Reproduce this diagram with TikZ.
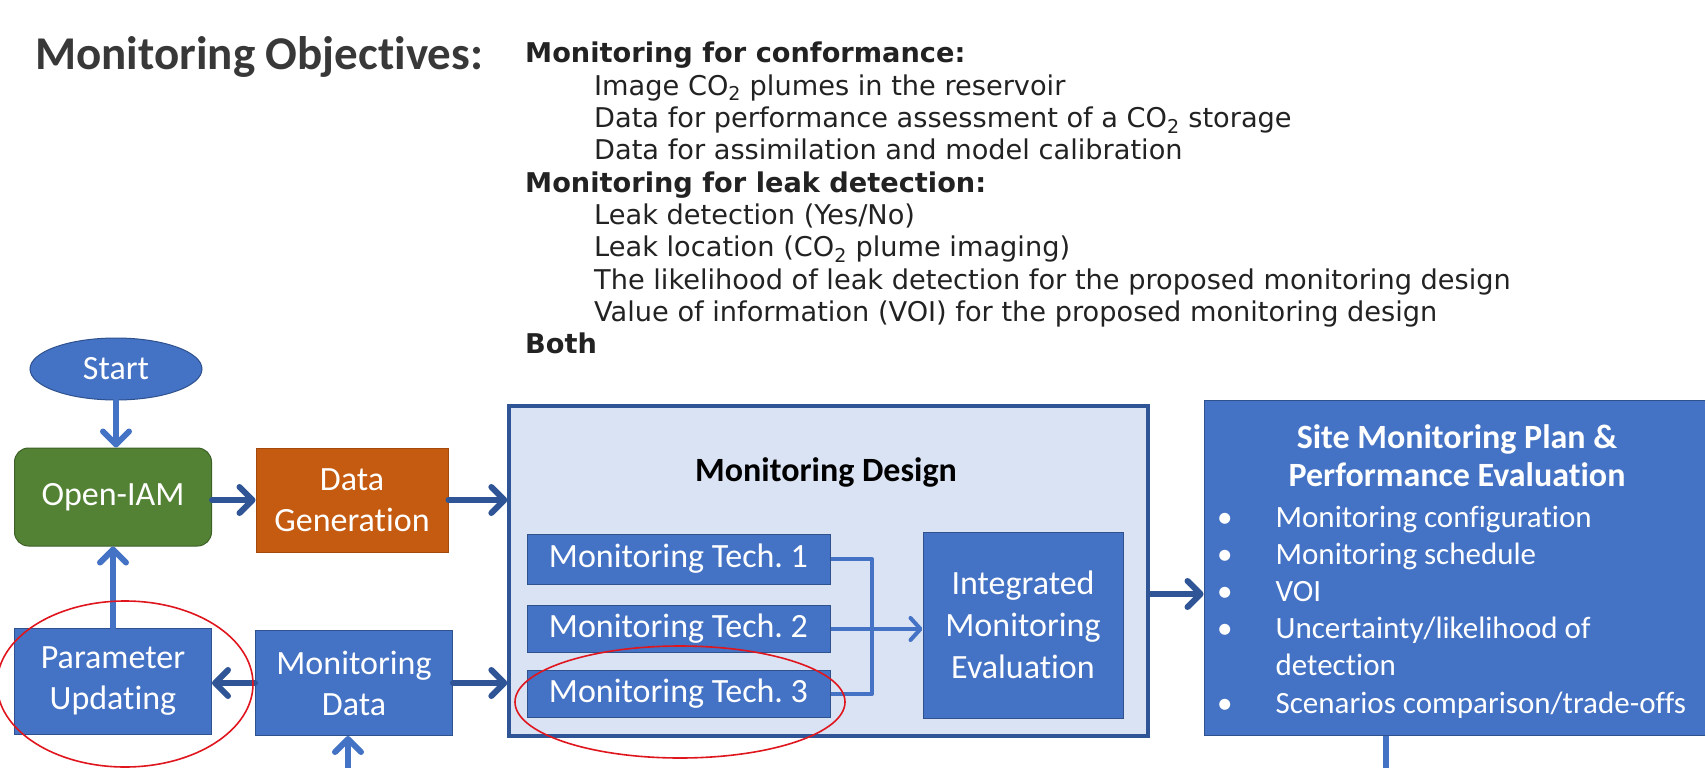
\documentclass[tikz,border=0pt]{standalone}
\usepackage{fontspec}
\setmainfont{Carlito}[Ligatures=NoCommon]
\newfontfamily\objfont{DejaVu Sans}
\usetikzlibrary{arrows.meta,shapes.geometric}

\definecolor{offblue}{HTML}{4472C4}
\definecolor{darkblue}{HTML}{2F5597}
\definecolor{edgeblue}{HTML}{2F528F}
\definecolor{paleblue}{HTML}{DAE3F3}
\definecolor{iamgreen}{HTML}{548235}
\definecolor{iamedge}{HTML}{3D6127}
\definecolor{genorange}{HTML}{C55A11}
\definecolor{genedge}{HTML}{A4490D}
\definecolor{ringred}{HTML}{E0161E}
\definecolor{textgray}{HTML}{222222}

\newcommand{\boxfont}{\fontsize{34}{41}\selectfont}
\newcommand{\listfont}{\fontsize{31}{37.2}\selectfont}
\newcommand{\objsize}{\objfont\fontsize{27.2}{31}\selectfont}
\newcommand{\COtwo}{CO\textsubscript{2}}

\begin{document}
\frenchspacing
\begin{tikzpicture}[x=1pt,y=-1pt,
    box/.style={draw=edgeblue, fill=offblue, text=white, line width=1pt,
      font=\boxfont, align=center, inner sep=0pt},
    flow/.style={-{Straight Barb[length=13pt,width=26pt,round]}, line width=6pt,
      darkblue, line cap=round, line join=round},
    bus/.style={line width=4pt, offblue, line join=round},
    ring/.style={draw=ringred, line width=1.6pt, ellipse},
    objhead/.style={anchor=base west, text=textgray, font=\objsize\bfseries, inner sep=0pt},
    objitem/.style={anchor=base west, text=textgray, font=\objsize, inner sep=0pt}]
\path[use as bounding box, fill=white] (0,0) rectangle (1705,768);

% objectives
\node[anchor=base west, inner sep=0pt, text=black!78, font=\fontsize{47}{56}\selectfont\bfseries]
  (title) at (35,70) {Monitoring Objectives:};
\node[objhead] (conf) at (525,63) {Monitoring for conformance:};
\node[objitem] (c1) at (594,95.3) {Image \COtwo{} plumes in the reservoir};
\node[objitem] (c2) at (594,127.6) {Data for performance assessment of a \COtwo{} storage};
\node[objitem] (c3) at (594,159.9) {Data for assimilation and model calibration};
\node[objhead] (leak) at (525,192.2) {Monitoring for leak detection:};
\node[objitem] (l1) at (594,224.5) {Leak detection (Yes/No)};
\node[objitem] (l2) at (594,256.8) {Leak location (\COtwo{} plume imaging)};
\node[objitem] (l3) at (594,289.1) {The likelihood of leak detection for the proposed monitoring design};
\node[objitem] (l4) at (594,321.4) {Value of information (VOI) for the proposed monitoring design};
\node[objhead] (both) at (525,353.7) {Both};

% workflow
\node[box, ellipse, minimum width=172pt, minimum height=62pt] (start) at (116,369) {Start};
\node[box, draw=iamedge, fill=iamgreen, rounded corners=14pt,
  minimum width=197pt, minimum height=98pt] (openiam) at (113,497) {Open-IAM};
\node[box, draw=genedge, fill=genorange, minimum width=192pt, minimum height=104pt]
  (datagen) at (352,500) {Data\\Generation};
\node[box, minimum width=197pt, minimum height=106pt] (param) at (113,681) {Parameter\\Updating};
\node[box, minimum width=197pt, minimum height=105pt] (mondata) at (354,683) {Monitoring\\Data};

\node[draw=darkblue, fill=paleblue, line width=3.3pt, minimum width=639pt, minimum height=330pt]
  (design) at (828.5,571) {};
\node[font=\boxfont\bfseries] (designtitle) at (826,472) {Monitoring Design};
\node[box, minimum width=303pt, minimum height=50pt] (tech1) at (678.5,559) {Monitoring Tech. 1};
\node[box, minimum width=303pt, minimum height=47pt] (tech2) at (678.5,629) {Monitoring Tech. 2};
\node[box, minimum width=303pt, minimum height=47pt] (tech3) at (678.5,694) {Monitoring Tech. 3};
\node[box, minimum width=200pt, minimum height=186pt, font=\fontsize{34}{42}\selectfont]
  (integ) at (1023,625) {Integrated\\Monitoring\\Evaluation};

\node[box, minimum width=520pt, minimum height=335pt] (site) at (1464,567.5) {};
\node[text=white, align=center, font=\fontsize{34}{38}\selectfont\bfseries]
  (sitetitle) at (1457,456) {Site Monitoring Plan \&\\Performance Evaluation};
\node[anchor=base west, inner sep=0pt, text=white, font=\listfont] (plan) at (1217,527) {%
  \begin{tabular}[t]{@{}l@{\hspace{43pt}}l@{}}
  \textbullet & Monitoring configuration\\
  \textbullet & Monitoring schedule\\
  \textbullet & VOI\\
  \textbullet & Uncertainty/likelihood of\\
              & detection\\
  \textbullet & Scenarios comparison/trade-offs
  \end{tabular}};

% connectors
\coordinate (bus) at (872,0);
\coordinate (feed) at (348,768);
\coordinate (out) at (1386,768);
\draw[flow, offblue] (start.south) -- (start.south |- openiam.north);
\draw[flow] (openiam.east |- datagen.west) -- (datagen.west);
\draw[flow] (datagen.east) -- (datagen.east -| design.west);
\draw[flow, offblue] (param.north) -- (openiam.south);
\draw[flow] (mondata.west) -- (mondata.west -| param.east);
\draw[flow] (mondata.east) -- (mondata.east -| design.west);
\draw[flow, offblue] (feed) -- (feed |- mondata.south);
\draw[bus] (tech1.east) -| (bus |- tech3.east) -- (tech3.east);
\draw[bus, -{Straight Barb[length=10pt,width=22pt,round]}] (tech2.east) -- (tech2.east -| integ.west);
\draw[flow] ([yshift=-23pt]design.east) -- ([yshift=-23pt]design.east -| site.west);
\draw[line width=6pt, offblue] (out |- site.south) -- (out);

% highlighted items
\node[ring, minimum width=256pt, minimum height=166pt] (ringparam) at (125,684) {};
\node[ring, minimum width=330pt, minimum height=112pt] (ringtech) at (680,702) {};
\end{tikzpicture}
\end{document}
